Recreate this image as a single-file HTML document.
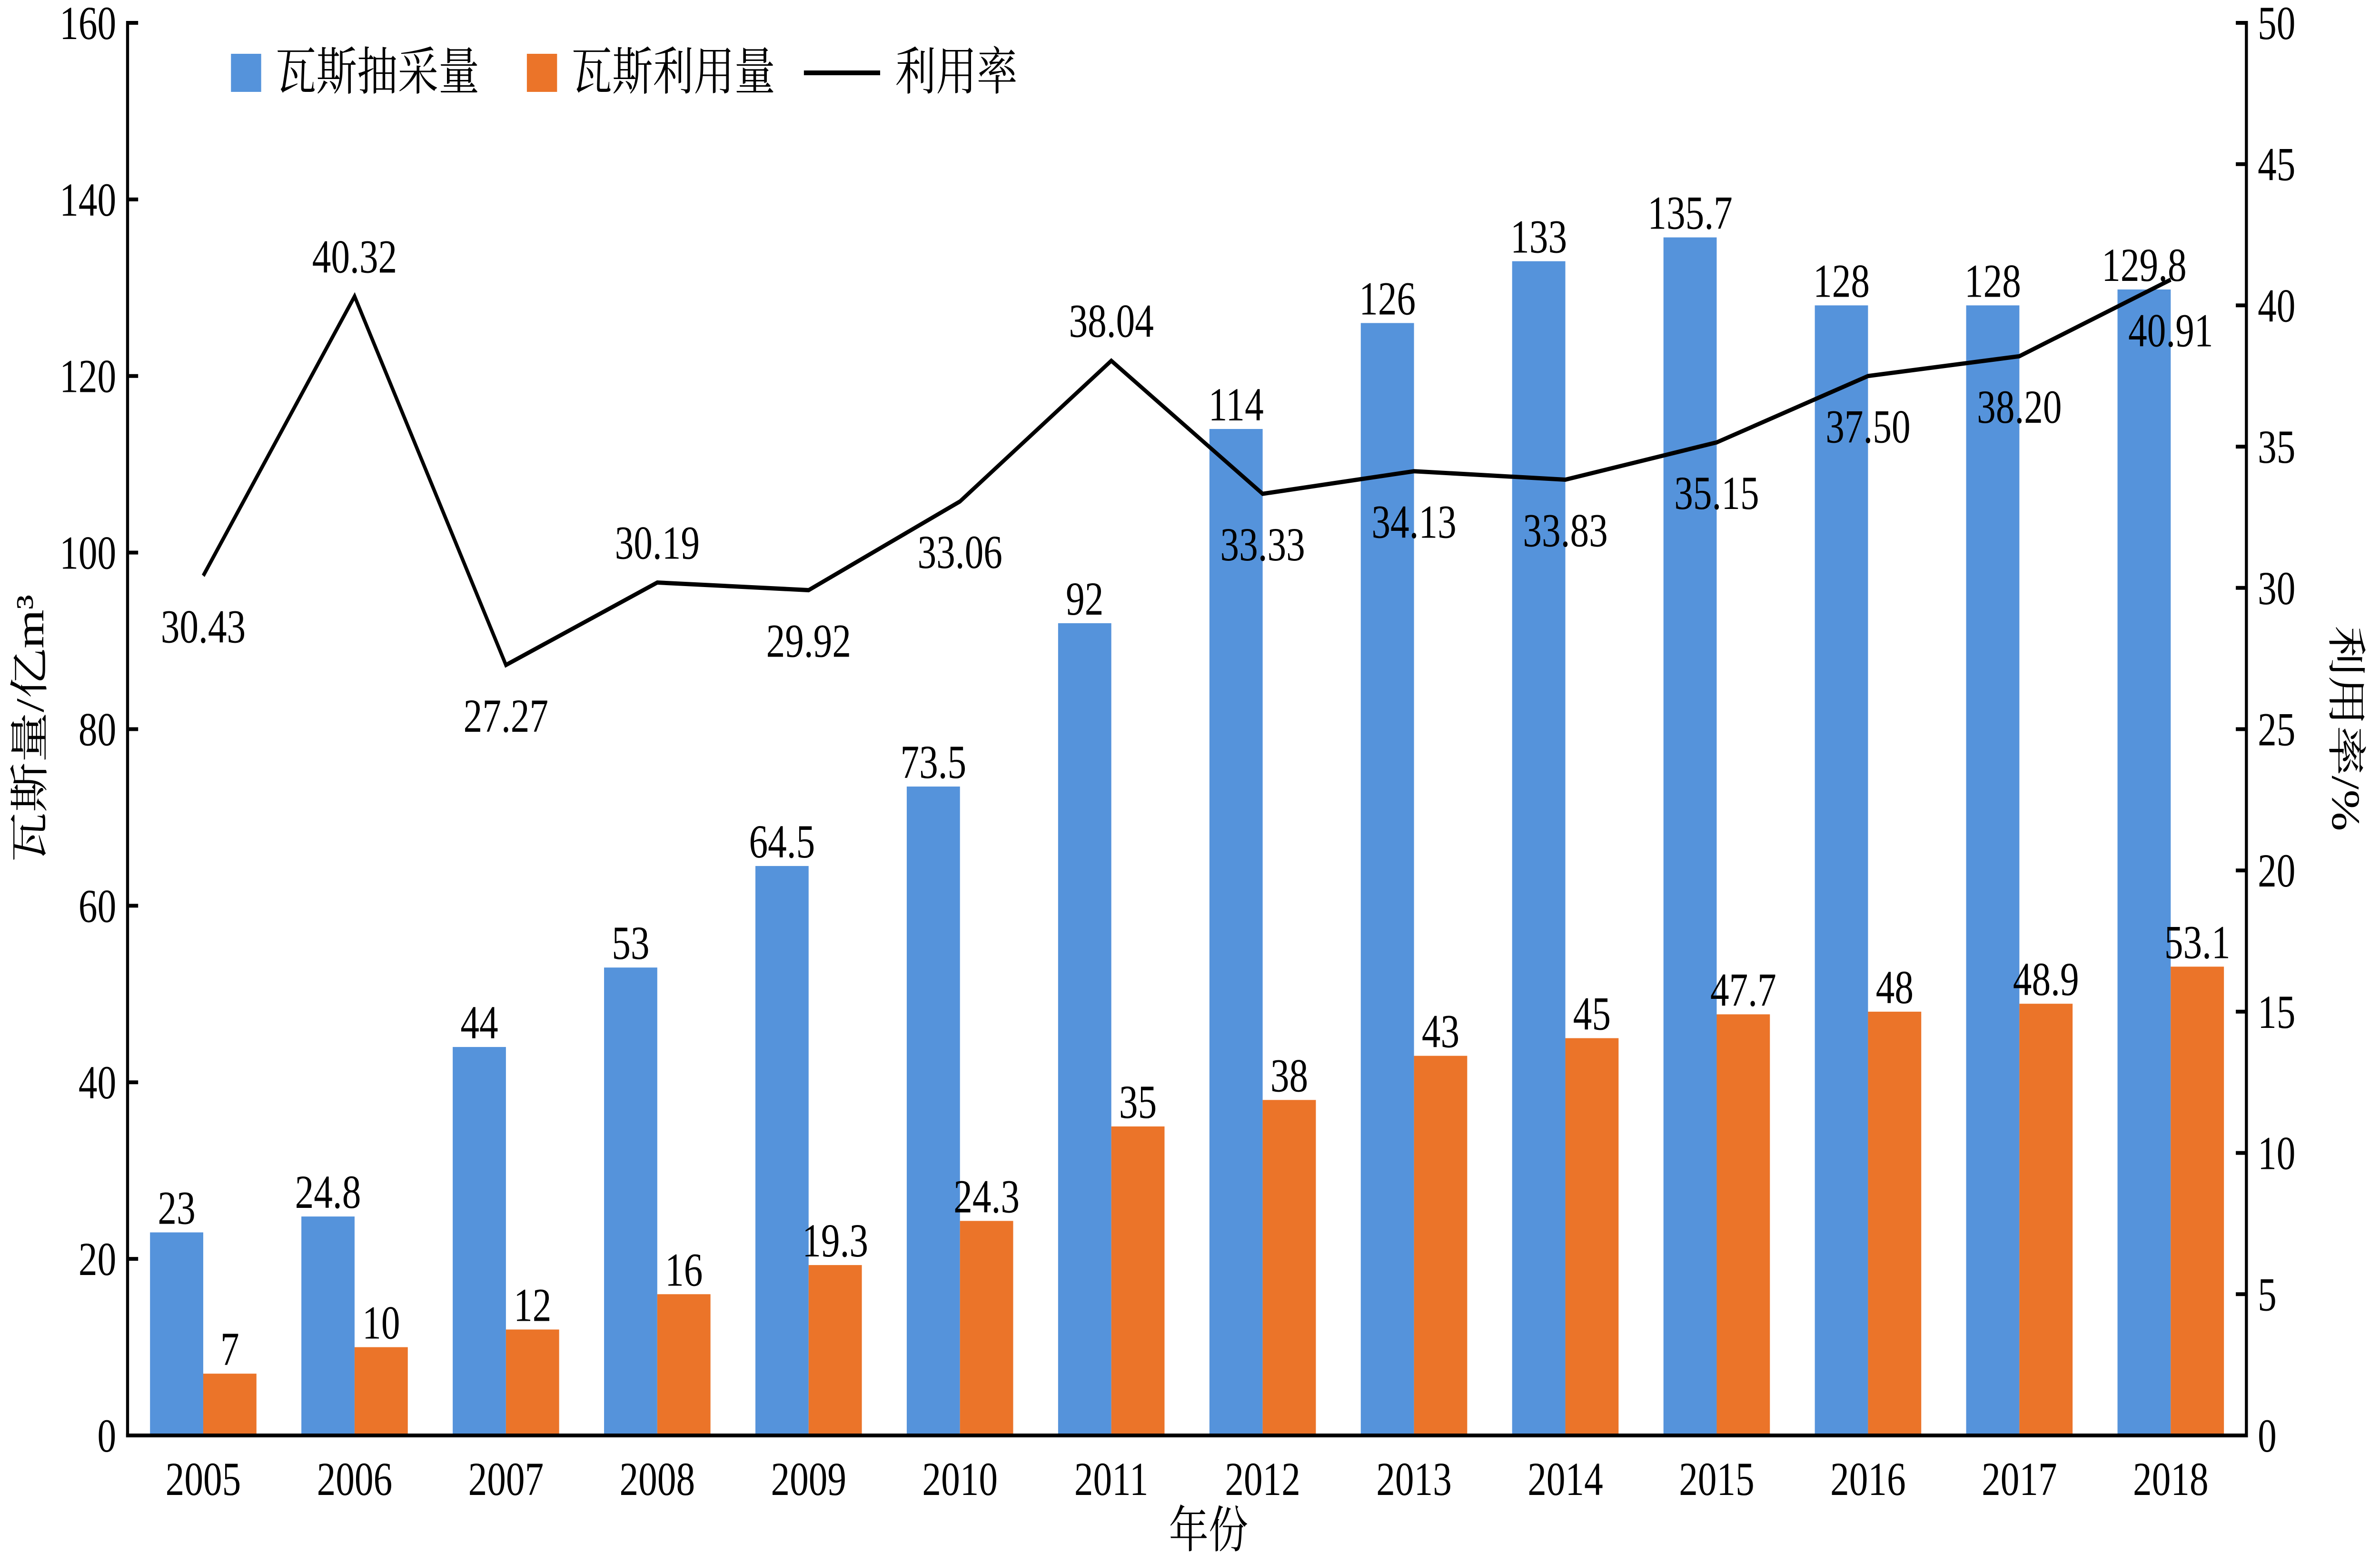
<!DOCTYPE html>
<html><head><meta charset="utf-8"><style>
html,body{margin:0;padding:0;background:#fff;width:100%;height:100%;overflow:hidden;}
svg{display:block;width:100vw;height:100vh;}
text{font-family:"Liberation Serif","Noto Serif CJK SC","Noto Sans CJK SC",serif;fill:#000;}
</style></head><body>
<svg id="chart" viewBox="0 0 6306 3285" preserveAspectRatio="none" xmlns="http://www.w3.org/2000/svg"></svg>
<script>
const years=["2005","2006","2007","2008","2009","2010","2011","2012","2013","2014","2015","2016","2017","2018"];
const extraction=[23,24.8,44,53,64.5,73.5,92,114,126,133,135.7,128,128,129.8];
const utilization=[7,10,12,16,19.3,24.3,35,38,43,45,47.7,48,48.9,53.1];
const rate=[30.43,40.32,27.27,30.19,29.92,33.06,38.04,33.33,34.13,33.83,35.15,37.50,38.20,40.91];
const rateLabels=["30.43","40.32","27.27","30.19","29.92","33.06","38.04","33.33","34.13","33.83","35.15","37.50","38.20","40.91"];
const leftTicks=[0,20,40,60,80,100,120,140,160];
const rightTicks=[0,5,10,15,20,25,30,35,40,45,50];

const svg=document.getElementById('chart');
const NS='http://www.w3.org/2000/svg';
const X0=338,X1=5952,Y0=3015,Y1=48;
const band=(X1-X0)/years.length, bw=141;
const yL=v=>Y0-v/160*(Y0-Y1);
const yR=v=>Y0-v/50*(Y0-Y1);
const cx=i=>X0+band*(i+0.5);
function el(tag,attrs,txt){const e=document.createElementNS(NS,tag);for(const k in attrs)e.setAttribute(k,attrs[k]);if(txt!==undefined)e.textContent=txt;svg.appendChild(e);return e;}
const FS=100;
years.forEach((y,i)=>{
  let b=el('rect',{x:cx(i)-bw,y:yL(extraction[i]),width:bw,height:Y0-yL(extraction[i]),fill:'#5593DB'});
  
  
  let o=el('rect',{x:cx(i),y:yL(utilization[i]),width:bw,height:Y0-yL(utilization[i]),fill:'#EB7429'});
  
  
  let t1=el('text',{x:cx(i)-bw/2,y:yL(extraction[i])-18,'font-size':FS,'text-anchor':'middle'},String(extraction[i]));
  
  
  let t2=el('text',{x:cx(i)+bw/2,y:yL(utilization[i])-18,'font-size':FS,'text-anchor':'middle'},String(utilization[i]));
  
  
});
const pts=rate.map((v,i)=>cx(i)+','+yR(v)).join(' ');
const line=el('polyline',{points:pts,fill:'none',stroke:'#000','stroke-width':9,'stroke-linejoin':'miter'});


const above=[false,true,false,true,false,false,true,false,false,false,false,false,false,false];
rate.forEach((v,i)=>{
  const yy=above[i]?yR(v)-50:yR(v)+140;
  let t=el('text',{x:cx(i),y:yy,'font-size':FS,'text-anchor':'middle'},rateLabels[i]);
  
  
});
let a=el('line',{x1:X0,y1:Y1-4,x2:X0,y2:Y0+4,stroke:'#000','stroke-width':8});

a=el('line',{x1:X1,y1:Y1-4,x2:X1,y2:Y0+4,stroke:'#000','stroke-width':8});

a=el('line',{x1:X0-4,y1:Y0,x2:X1+4,y2:Y0,stroke:'#000','stroke-width':8});

leftTicks.forEach(v=>{
  el('line',{x1:X0,y1:yL(v),x2:X0+28,y2:yL(v),stroke:'#000','stroke-width':8});
  let t=el('text',{x:X0-30,y:yL(v)+34,'font-size':FS,'text-anchor':'end'},String(v));
  
  
});
rightTicks.forEach(v=>{
  el('line',{x1:X1,y1:yR(v),x2:X1-28,y2:yR(v),stroke:'#000','stroke-width':8});
  let t=el('text',{x:X1+30,y:yR(v)+34,'font-size':FS,'text-anchor':'start'},String(v));
  
  
});
years.forEach((y,i)=>{
  let t=el('text',{x:cx(i),y:Y0+125,'font-size':FS,'text-anchor':'middle'},y);
  
  
});
let t=el('text',{x:3202,y:3250,'font-size':105,'text-anchor':'middle'},'年份');

t=el('text',{x:0,y:0,'font-size':105,'text-anchor':'middle',transform:'translate(115,1530) rotate(-90)'},'瓦斯量/亿m³');

t=el('text',{x:0,y:0,'font-size':105,'text-anchor':'middle',transform:'translate(6180,1530) rotate(90)'},'利用率/%');

let r=el('rect',{x:612,y:113,width:80,height:80,fill:'#5593DB'});

t=el('text',{x:730,y:188,'font-size':108},'瓦斯抽采量');

r=el('rect',{x:1396,y:113,width:80,height:80,fill:'#EB7429'});

t=el('text',{x:1514,y:188,'font-size':108},'瓦斯利用量');

r=el('line',{x1:2130,y1:153,x2:2332,y2:153,stroke:'#000','stroke-width':10});

t=el('text',{x:2372,y:188,'font-size':108},'利用率');

</script>
</body></html>
